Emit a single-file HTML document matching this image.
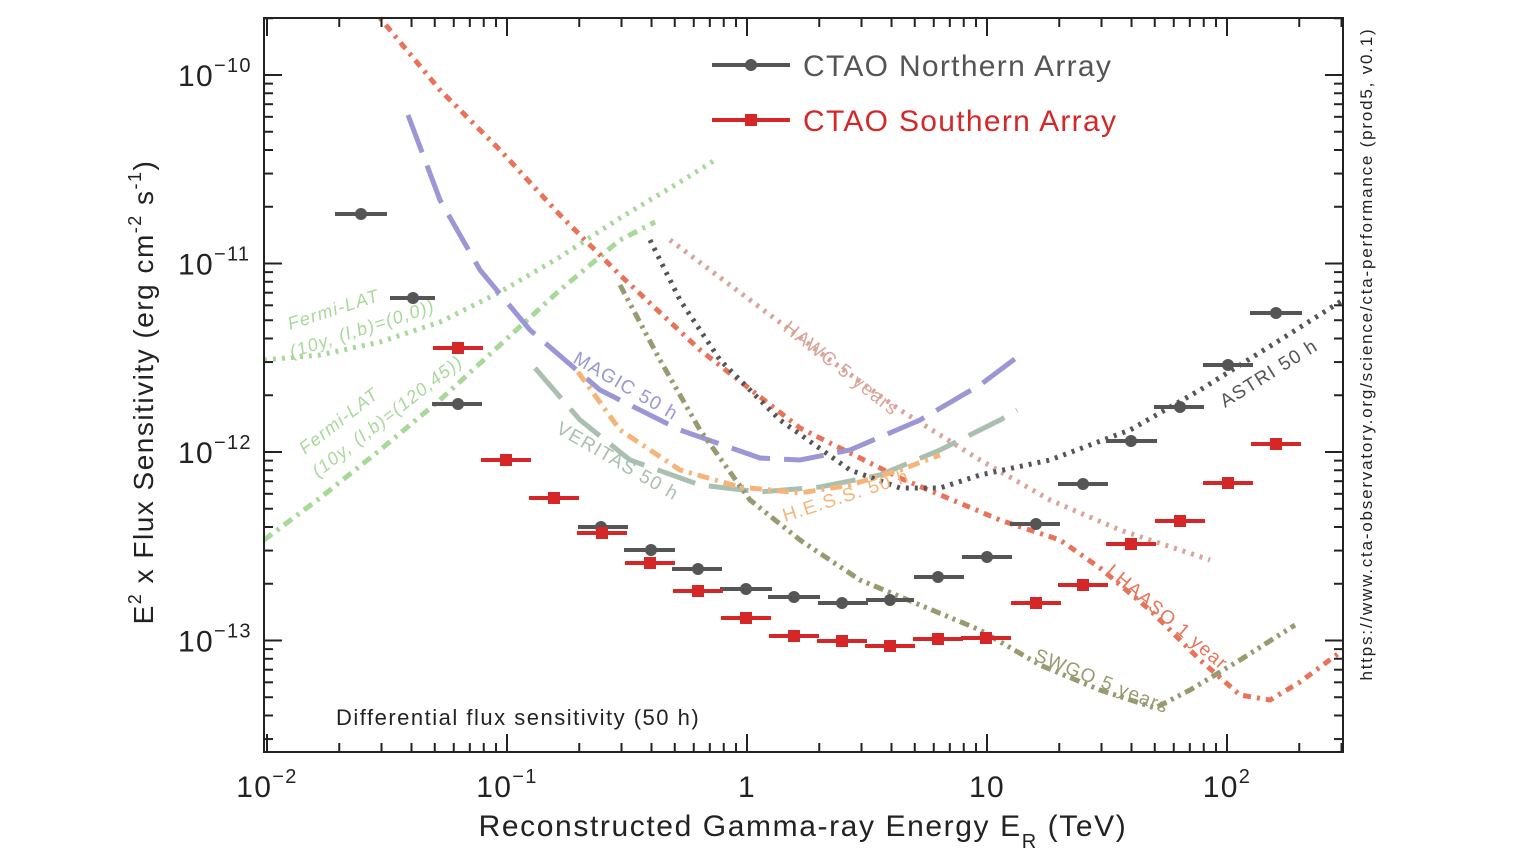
<!DOCTYPE html>
<html><head><meta charset="utf-8"><style>
html,body{margin:0;padding:0;background:#fff;}
svg{display:block;font-family:"Liberation Sans",sans-serif;}
text{letter-spacing:1.3px;}
</style></head><body>
<svg id="s" width="1536" height="864" viewBox="0 0 1536 864" xmlns="http://www.w3.org/2000/svg">
<rect width="1536" height="864" fill="#fff"/>
<g id="curves" fill="none" stroke-width="5">
<polyline stroke="#a8d89a" stroke-dasharray="3,6" points="264,360 320,355 380,342 440,322 500,292 560,257 620,218 680,182 715,160"/>
<polyline stroke="#a8d89a" stroke-dasharray="10,6,3,6" points="264,540 320,498 380,450 440,400 500,345 560,290 620,240 655,222"/>
<polyline stroke="#e8735a" stroke-dasharray="3,6,8,6" points="380,18 440,90 500,150 560,215 620,275 700,350 800,428 900,478 1000,520 1060,540 1100,568 1150,610 1200,660 1240,695 1270,700 1300,682 1343,650"/>
<polyline stroke="#d9a49a" stroke-dasharray="3,6" points="670,240 750,300 830,360 900,410 980,460 1050,500 1120,530 1210,560"/>
<polyline stroke="#9b96d6" stroke-dasharray="40,14" points="408,115 440,200 480,270 530,330 600,390 680,430 760,458 800,460 850,450 920,420 980,385 1020,355"/>
<polyline stroke="#a9bfb0" stroke-dasharray="40,14" points="535,368 580,420 630,460 700,485 760,492 820,487 880,475 940,450 1000,420 1017,410"/>
<polyline stroke="#f5b57a" stroke-dasharray="12,6,3,6" points="578,372 620,430 680,470 740,487 800,493 850,485 900,470 940,455"/>
<polyline stroke="#555" stroke-dasharray="3,6" points="650,240 680,300 720,360 780,420 850,470 900,488 940,488 980,475 1050,460 1130,430 1200,390 1280,340 1343,300"/>
<polyline stroke="#9a9a70" stroke-dasharray="10,5,3,5,3,5" points="620,285 660,360 700,430 750,500 800,540 860,580 920,605 980,630 1040,665 1100,690 1155,708 1190,690 1240,660 1295,625"/>
</g>
<g font-style="italic" font-size="18">
<text fill="#a8d89a" transform="translate(290,330) rotate(-18)">Fermi-LAT</text>
<text fill="#a8d89a" transform="translate(292,358) rotate(-18)">(10y, (l,b)=(0,0))</text>
<text fill="#a8d89a" transform="translate(305,455) rotate(-38)">Fermi-LAT</text>
<text fill="#a8d89a" transform="translate(318,478) rotate(-38)">(10y, (l,b)=(120,45))</text>
</g>
<g font-size="19">
<text fill="#9b96d6" transform="translate(572,362) rotate(30)">MAGIC 50 h</text>
<text fill="#a9bfb0" transform="translate(555,432) rotate(30)">VERITAS 50 h</text>
<text fill="#f5b57a" transform="translate(785,522) rotate(-18)">H.E.S.S. 50 h</text>
<text fill="#d9a49a" transform="translate(782,330) rotate(38)">HAWC 5 years</text>
<text fill="#555" transform="translate(1225,408) rotate(-32)">ASTRI 50 h</text>
<text fill="#e8735a" transform="translate(1105,573) rotate(40)">LHAASO 1 year</text>
<text fill="#9a9a70" transform="translate(1033,660) rotate(22)">SWGO 5 years</text>
</g>
<g id="data"></g>
<g id="axes" stroke="#222" stroke-width="2" fill="none"><rect x="264" y="18" width="1079" height="734"/></g>
<g font-size="30" fill="#222" style="letter-spacing:2.2px">
<line x1="712" y1="65" x2="790" y2="65" stroke="#555" stroke-width="4"/><circle cx="751" cy="65" r="6" fill="#555"/>
<text x="803" y="76" fill="#555">CTAO Northern Array</text>
<line x1="712" y1="120" x2="790" y2="120" stroke="#d62728" stroke-width="4"/><rect x="745" y="114" width="12" height="12" fill="#d62728"/>
<text x="803" y="131" fill="#d62728">CTAO Southern Array</text>
</g>
<text x="336" y="725" font-size="22" fill="#222" style="letter-spacing:1.5px">Differential flux sensitivity (50 h)</text>
<text x="803" y="836" font-size="30" fill="#222" text-anchor="middle" style="letter-spacing:1.6px">Reconstructed Gamma-ray Energy E<tspan font-size="20" dy="12">R</tspan><tspan dy="-12"> (TeV)</tspan></text>
<text transform="translate(153,392) rotate(-90)" font-size="28" fill="#222" text-anchor="middle" style="letter-spacing:1.5px">E<tspan font-size="18" dy="-12">2</tspan><tspan dy="12"> x Flux Sensitivity (erg cm</tspan><tspan font-size="18" dy="-12">-2</tspan><tspan dy="12"> s</tspan><tspan font-size="18" dy="-12">-1</tspan><tspan dy="12">)</tspan></text>
<text transform="translate(1372,354) rotate(-90)" font-size="17" fill="#222" text-anchor="middle" style="letter-spacing:1.8px">https://www.cta-observatory.org/science/cta-performance (prod5, v0.1)</text>
<g id="ticks" stroke="#222" stroke-width="2"></g>
<g id="labels" font-size="30" fill="#222"></g>
</svg>
<script>
var NS="http://www.w3.org/2000/svg";
function el(p,t,a,txt){var e=document.createElementNS(NS,t);for(var k in a)e.setAttribute(k,a[k]);if(txt)e.textContent=txt;document.getElementById(p).appendChild(e);return e;}
function X(l){return 267+240*(l+2);}
function Y(l){return 75+188.5*(-10-l);}
for(var d=-2;d<=2;d++){for(var m=1;m<10;m++){var l=d+Math.log10(m);var x=X(l);if(x<264||x>1343)continue;var L=m==1?18:9;
el("ticks","line",{x1:x,y1:752,x2:x,y2:752-L});el("ticks","line",{x1:x,y1:18,x2:x,y2:18+L});}}
var xl=[["10","−2",-2],["10","−1",-1],["1","",0],["10","",1],["10","2",2]];
xl.forEach(function(t){var x=X(t[2]);var g=el("labels","text",{x:x,y:797,"text-anchor":"middle"});g.textContent=t[0];if(t[1]){var s=document.createElementNS(NS,"tspan");s.setAttribute("font-size","20");s.setAttribute("dy","-14");s.textContent=t[1];g.appendChild(s);}});
for(var d=-14;d<=-10;d++){for(var m=1;m<10;m++){var l=d+Math.log10(m);var y=Y(l);if(y<18||y>752)continue;var L=m==1?18:9;
el("ticks","line",{x1:264,y1:y,x2:264+L,y2:y});el("ticks","line",{x1:1343,y1:y,x2:1343-L,y2:y});}}
[-10,-11,-12,-13].forEach(function(d){var y=Y(d);var g=el("labels","text",{x:178,y:y+11});g.textContent="10";var s=document.createElementNS(NS,"tspan");s.setAttribute("font-size","20");s.setAttribute("dy","-14");s.textContent="−"+(-d);g.appendChild(s);});
var N=[[361,214,335,387],[413,298,390,435],[458,404,432,482],[601,527,578,628],[651,550,624,675],[698,569,672,722],[746,589,720,772],[794,597,768,820],[842,603,818,868],[890,600,866,914],[938,577,914,964],[987,557,962,1012],[1036,524,1010,1060],[1083,484,1058,1108],[1131,441,1106,1157],[1180,407,1154,1204],[1228,365,1203,1253],[1276,313,1250,1302]];
var S=[[458,348],[506,460],[554,498],[602,533],[650,563],[698,591],[746,618],[794,636],[842,641],[890,646],[938,639],[986,638],[1036,603],[1083,585],[1131,544],[1180,521],[1228,483],[1276,444]];
N.forEach(function(p){el("data","line",{x1:p[2],y1:p[1],x2:p[3],y2:p[1],stroke:"#555","stroke-width":4});el("data","circle",{cx:p[0],cy:p[1],r:6,fill:"#555"});});
S.forEach(function(p){el("data","line",{x1:p[0]-25,y1:p[1],x2:p[0]+25,y2:p[1],stroke:"#d62728","stroke-width":4});el("data","rect",{x:p[0]-6,y:p[1]-6,width:12,height:12,fill:"#d62728"});});
</script>
</body></html>
